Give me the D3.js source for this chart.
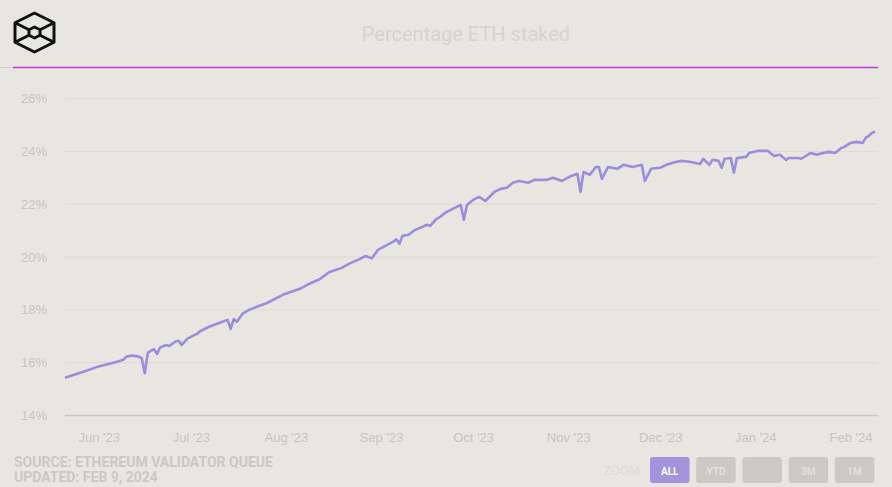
<!DOCTYPE html>
<html>
<head>
<meta charset="utf-8">
<script src="https://cdn.jsdelivr.net/npm/d3@7"></script>
<style>
  body { margin: 0; background: #e8e6e1; }
  svg { display: block; }
</style>
</head>
<body>
<div id="chart"></div>
<script>
// data (percent of ETH supply staked)
var dates = [
  "2023-05-21","2023-05-27","2023-06-01","2023-06-07","2023-06-09","2023-06-10","2023-06-12","2023-06-14",
  "2023-06-15","2023-06-16","2023-06-17","2023-06-19","2023-06-20","2023-06-21","2023-06-23","2023-06-24",
  "2023-06-26","2023-06-27","2023-06-28","2023-06-30","2023-07-03","2023-07-04","2023-07-07","2023-07-10",
  "2023-07-13","2023-07-14","2023-07-15","2023-07-16","2023-07-18","2023-07-20","2023-07-26","2023-07-31",
  "2023-08-06","2023-08-09","2023-08-12","2023-08-15","2023-08-19","2023-08-22","2023-08-25","2023-08-27",
  "2023-08-29","2023-08-31","2023-09-03","2023-09-05","2023-09-06","2023-09-07","2023-09-08","2023-09-10",
  "2023-09-12","2023-09-14","2023-09-16","2023-09-17","2023-09-19","2023-09-20","2023-09-22","2023-09-25",
  "2023-09-27","2023-09-28","2023-09-29","2023-10-01","2023-10-03","2023-10-05","2023-10-08","2023-10-10",
  "2023-10-12","2023-10-14","2023-10-16","2023-10-19","2023-10-21","2023-10-25","2023-10-27","2023-10-30",
  "2023-11-02","2023-11-04","2023-11-05","2023-11-06","2023-11-08","2023-11-10","2023-11-11","2023-11-12",
  "2023-11-14","2023-11-17","2023-11-19","2023-11-22","2023-11-25","2023-11-26","2023-11-28","2023-12-01",
  "2023-12-03","2023-12-06","2023-12-08","2023-12-11","2023-12-14","2023-12-15","2023-12-17","2023-12-18",
  "2023-12-20","2023-12-21","2023-12-22","2023-12-24","2023-12-25","2023-12-26","2023-12-29","2023-12-30",
  "2024-01-02","2024-01-05","2024-01-07","2024-01-09","2024-01-11","2024-01-12","2024-01-15","2024-01-16",
  "2024-01-19","2024-01-21","2024-01-23","2024-01-25","2024-01-27","2024-01-29","2024-01-30","2024-02-01",
  "2024-02-03","2024-02-05","2024-02-06","2024-02-07","2024-02-08","2024-02-09"
];
var staked = [
  15.41,15.64,15.84,16.02,16.09,16.21,16.25,16.21,
  16.15,15.58,16.36,16.49,16.31,16.56,16.65,16.61,
  16.78,16.81,16.65,16.90,17.07,17.17,17.34,17.47,
  17.60,17.26,17.63,17.53,17.85,17.98,18.25,18.55,
  18.80,18.99,19.14,19.40,19.56,19.75,19.90,20.02,
  19.93,20.25,20.44,20.56,20.65,20.48,20.78,20.82,
  21.00,21.10,21.20,21.16,21.41,21.48,21.66,21.84,
  21.95,21.39,21.95,22.14,22.26,22.10,22.45,22.56,
  22.60,22.79,22.86,22.79,22.90,22.90,22.98,22.86,
  23.05,23.13,22.45,23.20,23.09,23.39,23.39,22.94,
  23.39,23.32,23.47,23.39,23.47,22.86,23.32,23.36,
  23.47,23.58,23.62,23.58,23.50,23.70,23.47,23.66,
  23.62,23.36,23.70,23.73,23.17,23.73,23.77,23.92,
  24.00,24.00,23.81,23.85,23.66,23.73,23.73,23.70,
  23.92,23.85,23.92,23.96,23.92,24.11,24.15,24.30,
  24.34,24.30,24.50,24.57,24.68,24.72
];
var yTicks = [14, 16, 18, 20, 22, 24, 26];
var xTicks = ["2023-06-01","2023-07-01","2023-08-01","2023-09-01","2023-10-01",
              "2023-11-01","2023-12-01","2024-01-01","2024-02-01"];
var zoomButtons = ["ALL", "YTD", "", "3M", "1M"];

var W = 892, H = 487;
var parse = d3.timeParse("%Y-%m-%d");
var data = dates.map(function(d, i) { return { date: parse(d), value: staked[i] }; });

var svg = d3.select("#chart").append("svg")
    .attr("width", W).attr("height", H)
    .style("font-family", "Roboto, 'Liberation Sans', sans-serif");

svg.append("rect").attr("width", W).attr("height", H).attr("fill", "#e8e6e1");

// logo: outlined cube
var logo = svg.append("g").attr("transform", "translate(34.5,32.5)")
    .attr("fill", "none").attr("stroke", "#111").attr("stroke-width", 3).attr("stroke-linejoin", "round");
var hex = d3.range(6).map(function(i) {
  var a = Math.PI / 3 * i - Math.PI / 2;
  return [19.5 * Math.cos(a) / 0.866, 19.5 * Math.sin(a)];
});
var inner = d3.range(6).map(function(i) {
  var a = Math.PI / 3 * i - Math.PI / 2;
  return [5.5 * Math.cos(a) / 0.866, 5.5 * Math.sin(a)];
});
logo.append("path").attr("d", "M" + hex.join("L") + "Z");
logo.append("path").attr("d", "M" + hex[5] + "L" + inner[5] + "M" + hex[1] + "L" + inner[1] +
    "M" + hex[2] + "L" + inner[2] + "M" + hex[4] + "L" + inner[4]);
logo.append("path").attr("d", "M" + inner.join("L") + "Z");

svg.append("text")
    .attr("x", 466).attr("y", 41)
    .attr("text-anchor", "middle")
    .attr("fill", "#d5d3ce")
    .style("font-size", "20px")
    .text("Percentage ETH staked");

svg.append("line").attr("x1", 0).attr("x2", 13).attr("y1", 67.5).attr("y2", 67.5)
    .attr("stroke", "#d2d0cb").attr("stroke-width", 1);
svg.append("line").attr("x1", 13).attr("x2", 878).attr("y1", 67.5).attr("y2", 67.5)
    .attr("stroke", "#c03fd2").attr("stroke-width", 1.6);

var x = d3.scaleTime()
    .domain([parse("2023-05-21"), parse("2024-02-09")])
    .range([65, 875]);
var y = d3.scaleLinear().domain([14, 26]).range([415, 98]);

// gridlines + y labels
var yAxis = svg.append("g")
    .attr("transform", "translate(65,0)")
    .call(d3.axisLeft(y).tickValues(yTicks).tickSize(-813)
      .tickFormat(function(d) { return d + "%"; }).tickPadding(18));
yAxis.select(".domain").remove();
yAxis.selectAll(".tick line").attr("stroke", "#dcdad5");
yAxis.selectAll(".tick text").attr("fill", "#c6c4bf").style("font-size", "13px")
    .attr("dy", "0.35em");

svg.append("line").attr("x1", 65).attr("x2", 878).attr("y1", 415.5).attr("y2", 415.5)
    .attr("stroke", "#c9c7c2").attr("stroke-width", 1.5);

var xAxis = svg.append("g")
    .attr("transform", "translate(0,415)")
    .call(d3.axisBottom(x).tickValues(xTicks.map(parse)).tickSize(0).tickPadding(18)
      .tickFormat(d3.timeFormat("%b '%y")));
xAxis.select(".domain").remove();
xAxis.selectAll(".tick text").attr("fill", "#c6c4bf").style("font-size", "13px");

var line = d3.line()
    .x(function(d) { return x(d.date); })
    .y(function(d) { return y(d.value); });

svg.append("path")
    .datum(data)
    .attr("d", line)
    .attr("fill", "none")
    .attr("stroke", "#9a8edc")
    .attr("stroke-width", 2.6)
    .attr("stroke-linejoin", "round");

// footer
svg.append("text").attr("x", 14).attr("y", 467)
    .attr("fill", "#cac8c3").style("font-size", "14px").style("font-weight", "bold")
    .text("SOURCE: ETHEREUM VALIDATOR QUEUE");
svg.append("text").attr("x", 14).attr("y", 482)
    .attr("fill", "#cac8c3").style("font-size", "14px").style("font-weight", "bold")
    .text("UPDATED: FEB 9, 2024");

svg.append("text").attr("x", 640).attr("y", 475).attr("text-anchor", "end")
    .attr("fill", "#dcdad5").style("font-size", "13px")
    .text("ZOOM");

var btn = svg.selectAll(".btn").data(zoomButtons).enter().append("g")
    .attr("class", "btn")
    .attr("transform", function(d, i) { return "translate(" + (650 + i * 46.2) + ",457)"; });
btn.append("rect").attr("width", 39.5).attr("height", 26).attr("rx", 3)
    .attr("fill", function(d, i) { return i === 0 ? "#a194dc" : "#cbc9c4"; });
btn.append("text").attr("x", 19.75).attr("y", 17.5).attr("text-anchor", "middle")
    .attr("fill", function(d, i) { return i === 0 ? "#ffffff" : "#e2e0db"; })
    .style("font-size", "10px").style("font-weight", "bold")
    .text(function(d) { return d; });
</script>
</body>
</html>
